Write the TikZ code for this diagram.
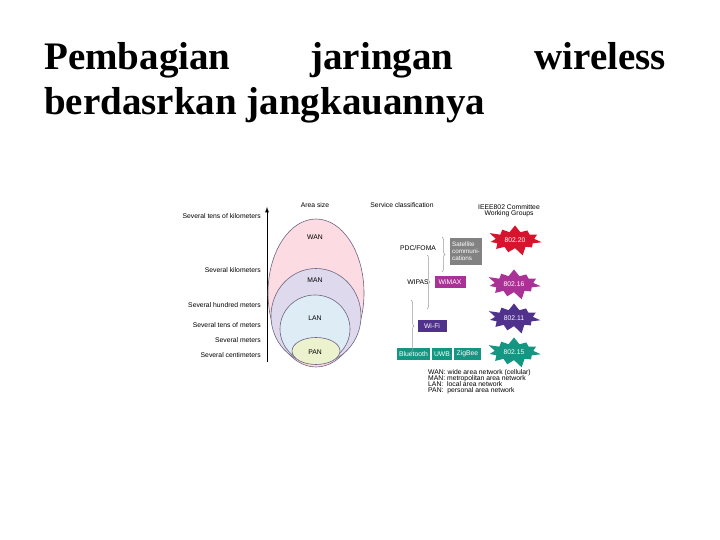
\documentclass[tikz,border=0pt]{standalone}
\usepackage{fontspec}
\setmainfont{Liberation Serif}
\newfontfamily\sans{Liberation Sans}
\usetikzlibrary{shapes.symbols,shapes.geometric,decorations.pathreplacing}
\definecolor{wanc}{RGB}{252,220,226}
\definecolor{manc}{RGB}{222,217,236}
\definecolor{lanc}{RGB}{222,236,246}
\definecolor{panc}{RGB}{236,242,206}
\definecolor{ringc}{RGB}{110,100,130}
\definecolor{redc}{RGB}{215,20,45}
\definecolor{magc}{RGB}{170,50,150}
\definecolor{indc}{RGB}{80,50,140}
\definecolor{tealc}{RGB}{20,150,130}
\definecolor{grayc}{RGB}{130,130,130}
\begin{document}
\begin{tikzpicture}[x=1pt,y=-1pt,
  sm/.style={font=\sans\fontsize{6.8}{7.6}\selectfont},
  ring/.style={draw=ringc,line width=0.6pt},
  tag/.style={sm,text=white,inner sep=1.5pt,minimum height=12pt},
  ttl/.style={font=\bfseries\fontsize{39}{42}\selectfont,inner sep=0pt},
  burst/.style={starburst,starburst points=11,starburst point height=9pt,minimum width=52pt,minimum height=30pt,sm,text=white},
  br/.style={decorate,decoration={brace,amplitude=3pt},draw=gray!80,line width=0.5pt}]
\useasboundingbox (0,0) rectangle (720,540);
\node[ttl,anchor=base west] (t1a) at (44,70) {Pembagian};
\node[ttl,anchor=base] (t1b) at (382,70) {jaringan};
\node[ttl,anchor=base east] (t1c) at (666,70) {wireless};
\node[ttl,anchor=base west] (t2) at (44,115) {berdasrkan jangkauannya};
% axis
\coordinate (ax0) at (267,362);
\coordinate (ax1) at (267,207);
\draw[-latex,line width=0.9pt] (ax0) -- (ax1);
\foreach \t/\y [count=\i] in {Several tens of kilometers/216,Several kilometers/270,Several hundred meters/305,Several tens of meters/325,Several meters/340,Several centimeters/355}
  \node[sm,anchor=east,inner sep=1pt] (lab\i) at (262,\y) {\t};
% ellipses
\node[ring,fill=wanc,ellipse,minimum width=96pt,minimum height=148pt] (wan) at (316,293) {};
\node[ring,fill=manc,ellipse,minimum width=90pt,minimum height=95pt] (man) at (316,316) {};
\node[ring,fill=lanc,ellipse,minimum width=70pt,minimum height=68pt] (lan) at (315,329) {};
\node[ring,fill=panc,ellipse,minimum width=48pt,minimum height=27pt] (pan) at (316,351) {};
\node[sm] (wl) at (315,237) {WAN};
\node[sm] (ml) at (315,280) {MAN};
\node[sm] (ll) at (315,318) {LAN};
\node[sm] (pl) at (315,352) {PAN};
\node[sm] (area) at (315,205) {Area size};
\node[sm] (serv) at (402,205) {Service classification};
\node[sm,align=center] (ieee) at (509,211) {IEEE802 Committee\\[-1.5pt]Working Groups};
% services
\node[sm] (pdc) at (418,248) {PDC/FOMA};
\node[sm] (wipas) at (418,282) {WIPAS};
\node[tag,fill=grayc,align=left,minimum width=32pt,minimum height=27pt,font=\sans\fontsize{6.3}{6.8}\selectfont] (sat) at (466,251) {Satellite\\communi-\\cations};
\node[tag,fill=magc,minimum width=31pt] (wimax) at (450,282) {WiMAX};
\node[tag,fill=indc,minimum width=29pt] (wifi) at (432,326) {Wi-Fi};
\node[tag,fill=tealc,minimum width=33pt,inner sep=0.5pt] (bt) at (413.5,354) {Bluetooth};
\node[tag,fill=tealc,minimum width=20pt,inner sep=0.5pt] (uwb) at (442,354) {UWB};
\node[tag,fill=tealc,minimum width=27pt,inner sep=0.5pt] (zig) at (467.5,354) {ZigBee};
\coordinate (b1a) at (442,237); \coordinate (b1b) at (442,272);
\draw[br] (b1a) -- (b1b);
\coordinate (b2a) at (427,255); \coordinate (b2b) at (427,309);
\draw[br] (b2a) -- (b2b);
\coordinate (b3a) at (411,300); \coordinate (b3b) at (411,352);
\draw[br] (b3a) -- (b3b);
% bursts
\node[burst,fill=redc] (g20) at (515,240) {802.20};
\node[burst,fill=magc,shape border rotate=15] (g16) at (514,284) {802.16};
\node[burst,fill=indc,shape border rotate=8] (g11) at (514,318) {802.11};
\node[burst,fill=tealc,shape border rotate=20] (g15) at (514,352) {802.15};
% legend
\node[sm,anchor=north west,align=left,inner sep=0pt] (leg) at (428,369) {WAN:\ wide area network (cellular)\\[-1.5pt]MAN:\ metropolitan area network\\[-1.5pt]LAN:\ \ local area network\\[-1.5pt]PAN:\ \ personal area network};
\end{tikzpicture}
\end{document}
